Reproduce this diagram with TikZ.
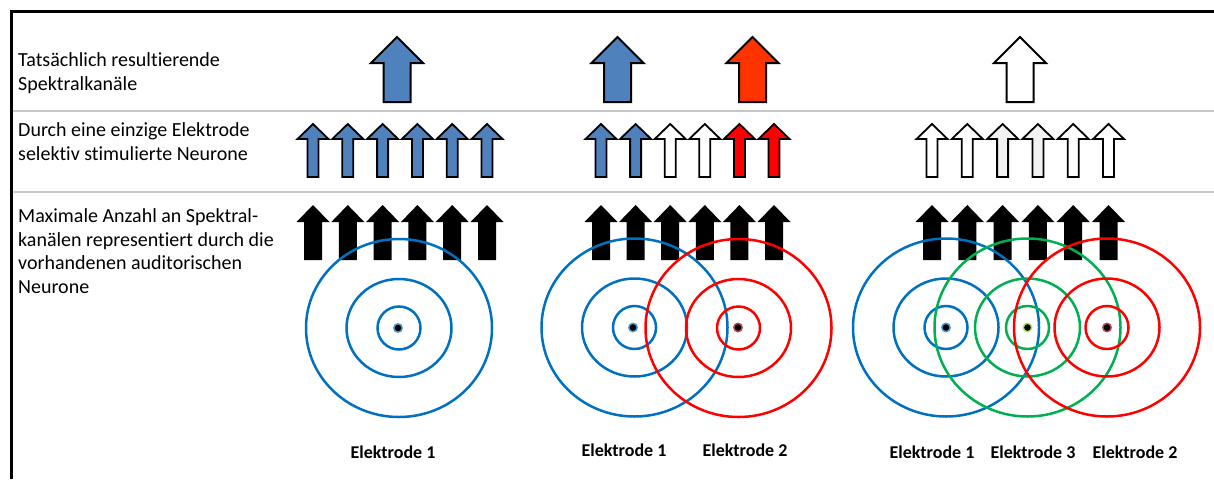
\documentclass[tikz,border=0pt]{standalone}
\usepackage{fontspec}
\setmainfont{Carlito}[Ligatures=NoCommon]
\definecolor{arrblue}{HTML}{4F81BD}
\definecolor{arrred}{HTML}{FF3300}
\definecolor{cblue}{HTML}{0070C0}
\definecolor{cred}{HTML}{FF0000}
\definecolor{cgreen}{HTML}{00B050}
\definecolor{sepgray}{HTML}{C8C8C8}
\definecolor{lightfill}{HTML}{F2F2F2}
\newcommand{\myarrowshape}[7]{\path[#7] (#1,#2) -- ({#1+#5},#3) -- ({#1+#6},#3) -- ({#1+#6},#4) -- ({#1-#6},#4) -- ({#1-#6},#3) -- ({#1-#5},#3) -- cycle;}
\newcommand{\bigarr}[2]{\myarrowshape{#1}{37}{63}{102}{26}{13.5}{bigarrowstyle,fill=#2}}
\newcommand{\smallarr}[2]{\myarrowshape{#1}{124}{139}{177}{15.5}{5.5}{smallarrowstyle,fill=#2}}
\newcommand{\blackarr}[1]{\myarrowshape{#1}{205}{222}{260}{16.5}{9}{fill=black}}
\begin{document}
\begin{tikzpicture}[x=1pt,y=-1pt,
  bigarrowstyle/.style={draw=black,line width=2pt,line join=miter},
  smallarrowstyle/.style={draw=black,line width=1.8pt,line join=miter},
  lefttext/.style={font=\fontsize{20}{23.5}\selectfont,align=left,inner sep=0pt,anchor=base west},
  elabel/.style={font=\fontsize{18}{21}\selectfont\bfseries,inner sep=0pt},
  ring/.style={line width=2.5pt},
  outerring/.style={ring,x radius=93,y radius=89},
  midring/.style={ring,x radius=52.5,y radius=49},
  innerring/.style={ring,x radius=21.5,y radius=21.5},
  sep/.style={draw=sepgray,line width=2pt}]
\useasboundingbox (0,0) rectangle (1214,479);
% frame
\draw[line width=3.3pt,line join=miter] (11.7,479) -- (11.7,11.7) -- (1214,11.7);
\draw[sep] (13.4,111) -- (1214,111);
\draw[sep] (13.4,192) -- (1214,192);
% left texts (base anchor = last line baseline)
\node[lefttext] (row1) at (18,90) {Tatsächlich resultierende\\Spektralkanäle};
\node[lefttext] (row2) at (18,160) {Durch eine einzige Elektrode\\selektiv stimulierte Neurone};
\node[lefttext] (row3) at (18,293) {Maximale Anzahl an Spektral-\\kanälen representiert durch die\\vorhandenen auditorischen\\Neurone};
% row 1 big arrows
\bigarr{397}{arrblue}
\bigarr{617.5}{arrblue}
\bigarr{752.5}{arrred}
\bigarr{1020}{white}
% row 2 small arrows
\foreach \i in {0,...,5} {\smallarr{313+34.8*\i}{arrblue}}
\foreach \i/\c in {0/arrblue,1/arrblue,2/white,3/white,4/cred,5/cred} {\smallarr{601+34.6*\i}{\c}}
\foreach \i/\c in {0/white,1/white,2/lightfill,3/lightfill,4/white,5/white} {\smallarr{932+35.3*\i}{\c}}
% row 3 black arrows
\foreach \i in {0,...,5} {\blackarr{313+34.8*\i}}
\foreach \i in {0,...,5} {\blackarr{601+34.6*\i}}
\foreach \i in {0,...,5} {\blackarr{932+35.3*\i}}
% panel 1 circles
\draw[cblue,outerring] (399,328) ellipse [];
\draw[cblue,midring] (399,328) ellipse [];
\draw[cblue,innerring] (399,328) ellipse [];
% panel 2 circles
\draw[cblue,outerring] (634.5,327.5) ellipse [];
\draw[cblue,midring] (634.5,327.5) ellipse [];
\draw[cblue,innerring] (634.5,327.5) ellipse [];
\draw[cred,outerring] (738.5,328) ellipse [];
\draw[cred,midring] (738.5,328) ellipse [];
\draw[cred,innerring] (738.5,328) ellipse [];
% panel 3 circles
\draw[cblue,outerring] (946,327.5) ellipse [];
\draw[cblue,midring] (946,327.5) ellipse [];
\draw[cblue,innerring] (946,327.5) ellipse [];
\draw[cgreen,outerring] (1027.5,327.5) ellipse [];
\draw[cgreen,midring] (1027.5,327.5) ellipse [];
\draw[cgreen,innerring] (1027.5,327.5) ellipse [];
\draw[cred,outerring] (1107,327.5) ellipse [];
\draw[cred,midring] (1107,327.5) ellipse [];
\draw[cred,innerring] (1107,327.5) ellipse [];
% electrode dots
\foreach \p/\c in {{(398,328)}/cblue,{(633,327.5)}/cblue,{(738,327.5)}/cred!60!black,{(946,327.5)}/cblue,{(1027.5,327.5)}/cgreen!50!yellow,{(1107,327.5)}/cred!60!black}
  {\fill[\c!70] \p circle [radius=5]; \fill[black] \p circle [radius=3.3];}
% electrode labels
\node[elabel] (e11) at (393,452) {Elektrode 1};
\node[elabel] (e21) at (624,450) {Elektrode 1};
\node[elabel] (e22) at (745,450) {Elektrode 2};
\node[elabel] (e31) at (932,452) {Elektrode 1};
\node[elabel] (e33) at (1033,452) {Elektrode 3};
\node[elabel] (e32) at (1135,452) {Elektrode 2};
\end{tikzpicture}
\end{document}
